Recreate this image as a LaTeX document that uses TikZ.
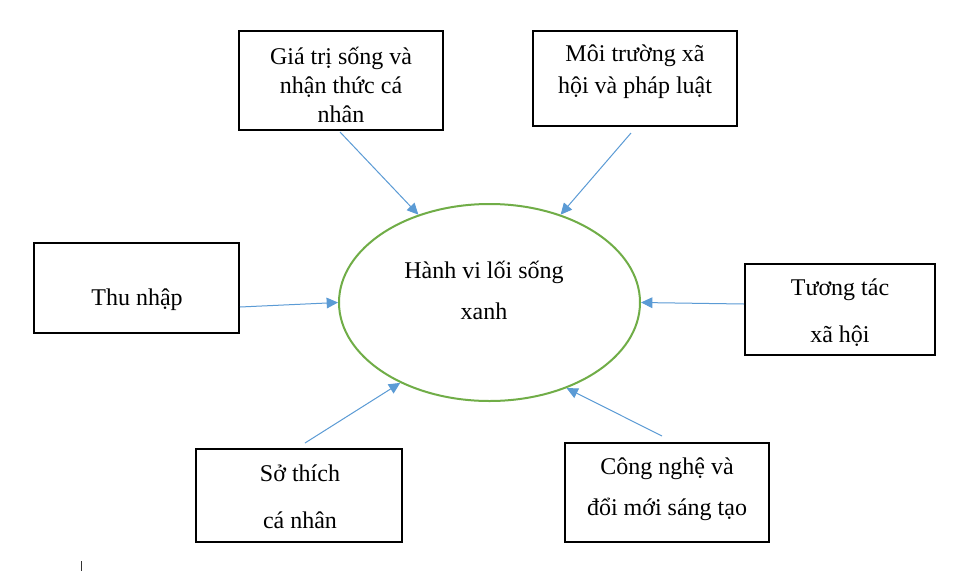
\documentclass[tikz,border=0pt]{standalone}
\usepackage{fontspec}
\setmainfont{Liberation Serif}
\usetikzlibrary{shapes.geometric,arrows.meta,fit}
\definecolor{arrowblue}{RGB}{91,155,213}
\definecolor{ellgreen}{RGB}{112,173,71}
\begin{document}
\begin{tikzpicture}[x=0.75pt,y=-0.75pt,
  box/.style={draw=black,line width=1pt,inner sep=0pt,rectangle},
  txt/.style={align=center,inner sep=0pt,font=\fontsize{18}{22}\selectfont},
  arr/.style={draw=arrowblue,line width=0.75pt,-{Triangle[length=8.5pt,width=8pt]}}]
\useasboundingbox[fill=white] (0,0) rectangle (954,572);
% boxes
\node[box,fit={(239,31) (443,130)}] (b1) {};
\node[box,fit={(533,31) (737,126)}] (b2) {};
\node[box,fit={(34,243) (239,333)}] (b3) {};
\node[box,fit={(745,264) (935,355)}] (b4) {};
\node[box,fit={(196,449) (402,542)}] (b5) {};
\node[box,fit={(565,443) (769,542)}] (b6) {};
% ellipse
\node[draw=ellgreen,line width=1.5pt,ellipse,inner sep=0pt,minimum width=225.75pt,minimum height=147.75pt] (e) at (489.5,302.5) {};
% texts
\node[txt,font=\fontsize{18}{21.75}\selectfont] (t1) at (341,85) {Giá trị sống và\\nhận thức cá\\nhân};
\node[txt,font=\fontsize{18}{24}\selectfont] (t2) at (635,72) {Môi trường xã\\hội và pháp luật};
\node[txt] (t3) at (137,300) {Thu nhập};
\node[txt,font=\fontsize{18}{35.25}\selectfont] (t4) at (840,313) {Tương tác\\xã hội};
\node[txt,font=\fontsize{18}{35.25}\selectfont] (t5) at (300,497) {Sở thích\\cá nhân};
\node[txt,font=\fontsize{18}{30.75}\selectfont] (t6) at (667,489) {Công nghệ và\\đổi mới sáng tạo};
\node[txt,font=\fontsize{18}{30.75}\selectfont] (te) at (484,290) {Hành vi lối sống\\xanh};
% arrow starts
\coordinate (s1) at (340,132);
\coordinate (s2) at (631,133);
\coordinate (s3) at (240,307);
\coordinate (s4) at (744,304);
\coordinate (s5) at (305,443);
\coordinate (s6) at (662,436);
\draw[arr] (s1) -- (e.129.8);
\draw[arr] (s2) -- (e.51.4);
\draw[arr] (s3) -- (e.180);
\draw[arr] (s4) -- (e.0);
\draw[arr] (s5) -- (e.222.3);
\draw[arr] (s6) -- (e.312.9);
% small cursor mark
\coordinate (m1) at (81,561);
\coordinate (m2) at (81,571);
\draw[line width=0.6pt,black!80] (m1) -- (m2);
\end{tikzpicture}
\end{document}
